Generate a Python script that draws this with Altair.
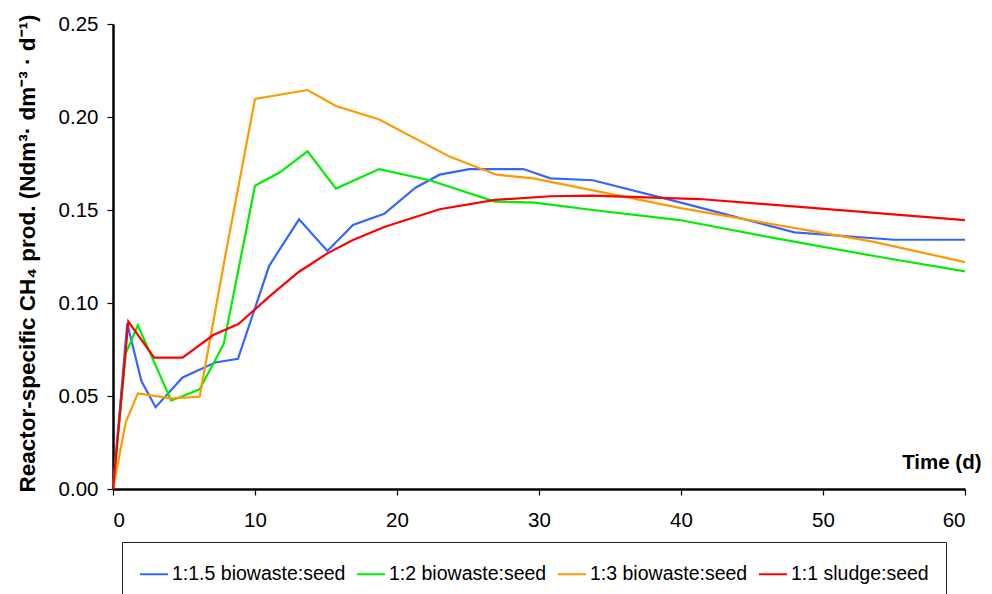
import altair as alt
import pandas as pd

# Series names (legend order)
series_names = ["1:1.5 biowaste:seed", "1:2 biowaste:seed", "1:3 biowaste:seed", "1:1 sludge:seed"]
series_colors = ["#3366FF", "#00EE00", "#FF9900", "#FF0000"]

# 1:1.5 biowaste:seed
x_blue = [0, 1.0, 2.0, 3.0, 4.9, 7.2, 8.8, 11.0, 13.1, 15.1, 16.9, 19.1, 21.3, 23.0, 25.1, 28.9, 30.8, 33.8, 40.0, 48.0, 55.0, 60.0]
y_blue = [0, 0.089, 0.058, 0.044, 0.060, 0.068, 0.070, 0.120, 0.145, 0.128, 0.142, 0.148, 0.162, 0.169, 0.172, 0.172, 0.167, 0.166, 0.154, 0.138, 0.134, 0.134]

# 1:2 biowaste:seed
x_green = [0, 0.9, 1.75, 4.1, 6.1, 7.8, 10.0, 11.7, 13.7, 15.7, 18.75, 22.3, 26.9, 29.7, 33.8, 39.9, 46.5, 53.8, 60.0]
y_green = [0, 0.073, 0.088, 0.0475, 0.0536, 0.078, 0.163, 0.170, 0.1815, 0.1615, 0.172, 0.166, 0.1545, 0.154, 0.150, 0.1446, 0.135, 0.125, 0.117]

# 1:3 biowaste:seed
x_orange = [0, 0.9, 1.75, 4.1, 6.1, 7.9, 10.0, 13.7, 15.7, 18.75, 23.7, 27.0, 29.6, 40.0, 53.5, 60.0]
y_orange = [0, 0.036, 0.0514, 0.0487, 0.0496, 0.125, 0.2097, 0.2145, 0.2059, 0.1987, 0.1787, 0.169, 0.167, 0.151, 0.133, 0.122]

# 1:1 sludge:seed
x_red = [0, 1.08, 2.9, 4.9, 7.06, 8.83, 11.06, 13.1, 15.1, 16.9, 19.15, 23.0, 26.9, 30.8, 33.8, 41.3, 60.0]
y_red = [0, 0.090, 0.0706, 0.0706, 0.0828, 0.0887, 0.1038, 0.1168, 0.1267, 0.1339, 0.141, 0.1504, 0.1554, 0.1574, 0.1577, 0.1559, 0.1446]

x_ticks = [0, 10, 20, 30, 40, 50, 60]
y_ticks = [0, 0.05, 0.10, 0.15, 0.20, 0.25]

rows = []
for name, xs, ys in zip(series_names, [x_blue, x_green, x_orange, x_red], [y_blue, y_green, y_orange, y_red]):
    for i, (xv, yv) in enumerate(zip(xs, ys)):
        rows.append({"series": name, "t": xv, "v": yv, "i": i})
df = pd.DataFrame(rows)

FONT = "Liberation Sans"

x_enc = alt.X("t:Q", scale=alt.Scale(domain=[0, 60], nice=False),
              axis=alt.Axis(values=x_ticks, title="Time (d)", titleFontWeight="bold",
                            titleFontSize=20.5, titleAlign="right", titleBaseline="alphabetic",
                            titleX=868, titleY=-21, titleAnchor="start",
                            labelPadding=15, format="d"))
y_enc = alt.Y("v:Q", scale=alt.Scale(domain=[0, 0.25], nice=False),
              axis=alt.Axis(values=y_ticks, format=".2f",
                            title="Reactor-specific CH₄ prod. (Ndm³· dm⁻³ · d⁻¹)",
                            titleFontWeight="bold", titleFontSize=22.5, titleAngle=-90,
                            titleAlign="center", titleBaseline="middle",
                            titleX=-86, titleY=229, titleAnchor="start", labelPadding=9))
color_enc = alt.Color("series:N",
                      scale=alt.Scale(domain=series_names, range=series_colors),
                      legend=alt.Legend(title=None, orient="none", legendX=9, legendY=518,
                                        direction="horizontal", columns=4,
                                        strokeColor="#222222", padding=17,
                                        fillColor="white", symbolType="stroke",
                                        symbolSize=784, symbolStrokeWidth=2,
                                        labelFontSize=19.5, labelFont=FONT, labelLimit=400,
                                        columnPadding=7, labelOffset=3, labelColor="black"))

base = alt.Chart(df).mark_line(strokeWidth=2.2).encode(
    x=x_enc, y=y_enc, color=color_enc, order="i:Q"
).transform_filter(alt.datum.series != "1:1 sludge:seed")

red = alt.Chart(df).mark_line(strokeWidth=2.2).encode(
    x=x_enc, y=y_enc, color=color_enc, order="i:Q"
).transform_filter(alt.datum.series == "1:1 sludge:seed")

chart = alt.layer(base, red).properties(
    width=852, height=465,
    padding={"left": 105, "top": 16, "right": 19, "bottom": 110},
    autosize=alt.AutoSizeParams(type="none"),
).configure_view(stroke=None).configure_axis(
    grid=False, domainColor="black", domainWidth=2.5, tickColor="black", tickWidth=1.2,
    tickSize=6, labelFont=FONT, labelFontSize=20.5, labelColor="black",
    titleFont=FONT, titleColor="black"
)

chart.save("out.html", embed_options={"renderer": "svg", "actions": False})
